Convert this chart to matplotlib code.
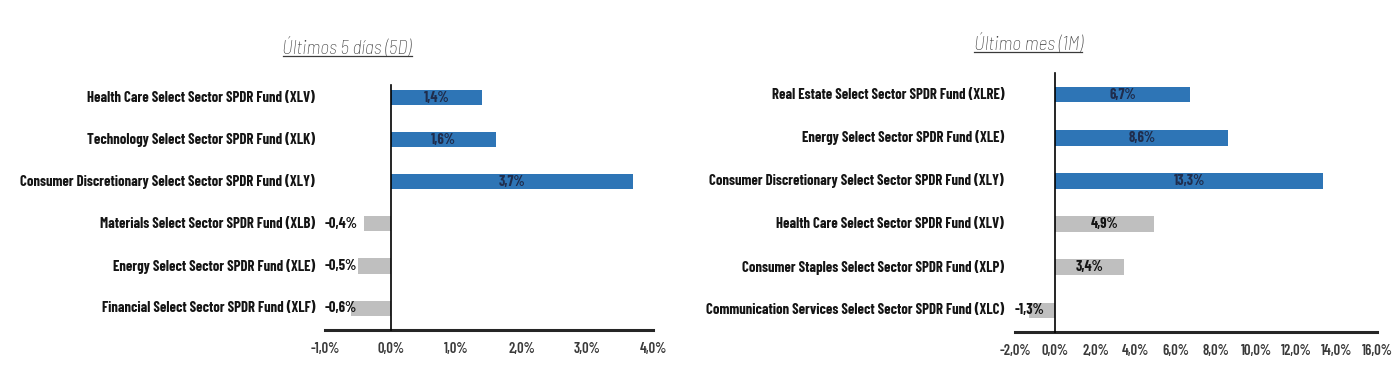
import matplotlib.pyplot as plt
from matplotlib.ticker import FuncFormatter
from matplotlib.lines import Line2D

plt.rcParams['font.family'] = ['Barlow Condensed', 'Barlow Semi Condensed', 'DejaVu Sans']

# left panel: last 5 days
names_5d = ['Health Care Select Sector SPDR Fund (XLV)',
            'Technology Select Sector SPDR Fund (XLK)',
            'Consumer Discretionary Select Sector SPDR Fund (XLY)',
            'Materials Select Sector SPDR Fund (XLB)',
            'Energy Select Sector SPDR Fund (XLE)',
            'Financial Select Sector SPDR Fund (XLF)']
values_5d = [1.4, 1.6, 3.7, -0.4, -0.5, -0.6]
ticks_5d = [-1, 0, 1, 2, 3, 4]

# right panel: last month
names_1m = ['Real Estate Select Sector SPDR Fund (XLRE)',
            'Energy Select Sector SPDR Fund (XLE)',
            'Consumer Discretionary Select Sector SPDR Fund (XLY)',
            'Health Care Select Sector SPDR Fund (XLV)',
            'Consumer Staples Select Sector SPDR Fund (XLP)',
            'Communication Services Select Sector SPDR Fund (XLC)']
values_1m = [6.7, 8.6, 13.3, 4.9, 3.4, -1.3]
ticks_1m = [-2, 0, 2, 4, 6, 8, 10, 12, 14, 16]

blue = '#2E75B6'
grey = '#BFBFBF'
n_blue = 3

fig = plt.figure(figsize=(14, 3.75), dpi=100)
fig.patch.set_facecolor('white')


def pct(v, pos=None):
    return ('%.1f%%' % v).replace('.', ',')


def panel(rect, names, values, ticks, ylim, title, title_xy):
    ax = fig.add_axes(rect)
    ypos = list(range(len(names)))
    colors = [blue if i < n_blue else grey for i in ypos]
    ax.barh(ypos, values, height=0.36, color=colors, zorder=2)
    ax.set_xlim(ticks[0], ticks[-1])
    ax.set_ylim(*ylim)
    ax.set_xticks(ticks)
    ax.xaxis.set_major_formatter(FuncFormatter(pct))
    ax.set_yticks([])
    ax.tick_params(axis='x', length=0, pad=9, labelsize=10.5, labelcolor='#3a3a3a')
    for lab in ax.get_xticklabels():
        lab.set_fontweight('semibold')
    for s in ['top', 'right']:
        ax.spines[s].set_visible(False)
    ax.spines['left'].set_position(('data', 0))
    ax.spines['left'].set_linewidth(1.2)
    ax.spines['left'].set_color('black')
    ax.spines['bottom'].set_linewidth(2.2)
    ax.spines['bottom'].set_color('#262626')
    ax.spines['left'].set_zorder(3)

    ytr = ax.get_yaxis_transform()
    for y, name in zip(ypos, names):
        ax.text(-0.03, y, name, transform=ytr, ha='right', va='center',
                fontsize=10.6, fontweight='bold', color='#141414')
    for y, v in zip(ypos, values):
        col = '#1F2D4D' if v > 0 and y < n_blue else '#141414'
        if v >= 0:
            ax.text(v / 2, y, pct(v), ha='center', va='center', fontsize=10.5,
                    fontweight='bold', color=col, zorder=4)
        else:
            ax.text(ticks[0], y, pct(v), ha='left', va='center', fontsize=10.5,
                    fontweight='bold', color=col, zorder=4)

    t = fig.text(title_xy[0], title_xy[1], title, ha='center', va='center',
                 fontsize=14, style='italic', fontweight='light', color='#3a3a3a',
                 family=['Barlow Semi Condensed', 'DejaVu Sans'])
    return t


t1 = panel([325 / 1400, 45 / 375, 328 / 1400, 245 / 375], names_5d, values_5d,
           ticks_5d, (5.52, -0.3), 'Últimos 5 días (5D)', (347 / 1400, 1 - 48 / 375))
t2 = panel([1015 / 1400, 43 / 375, 362 / 1400, 259 / 375], names_1m, values_1m,
           ticks_1m, (5.5, -0.5), 'Último mes (1M)', (1028 / 1400, 1 - 44 / 375))

# underline the titles
fig.canvas.draw()
inv = fig.transFigure.inverted()
for t in (t1, t2):
    bb = t.get_window_extent()
    (x0, y0), (x1, y1) = inv.transform([[bb.x0, bb.y0], [bb.x1, bb.y1]])
    fig.add_artist(Line2D([x0, x1], [y0 + 0.006, y0 + 0.006], transform=fig.transFigure,
                          color='#3a3a3a', lw=0.9))

fig.savefig('out.png', dpi=100, facecolor='white')
